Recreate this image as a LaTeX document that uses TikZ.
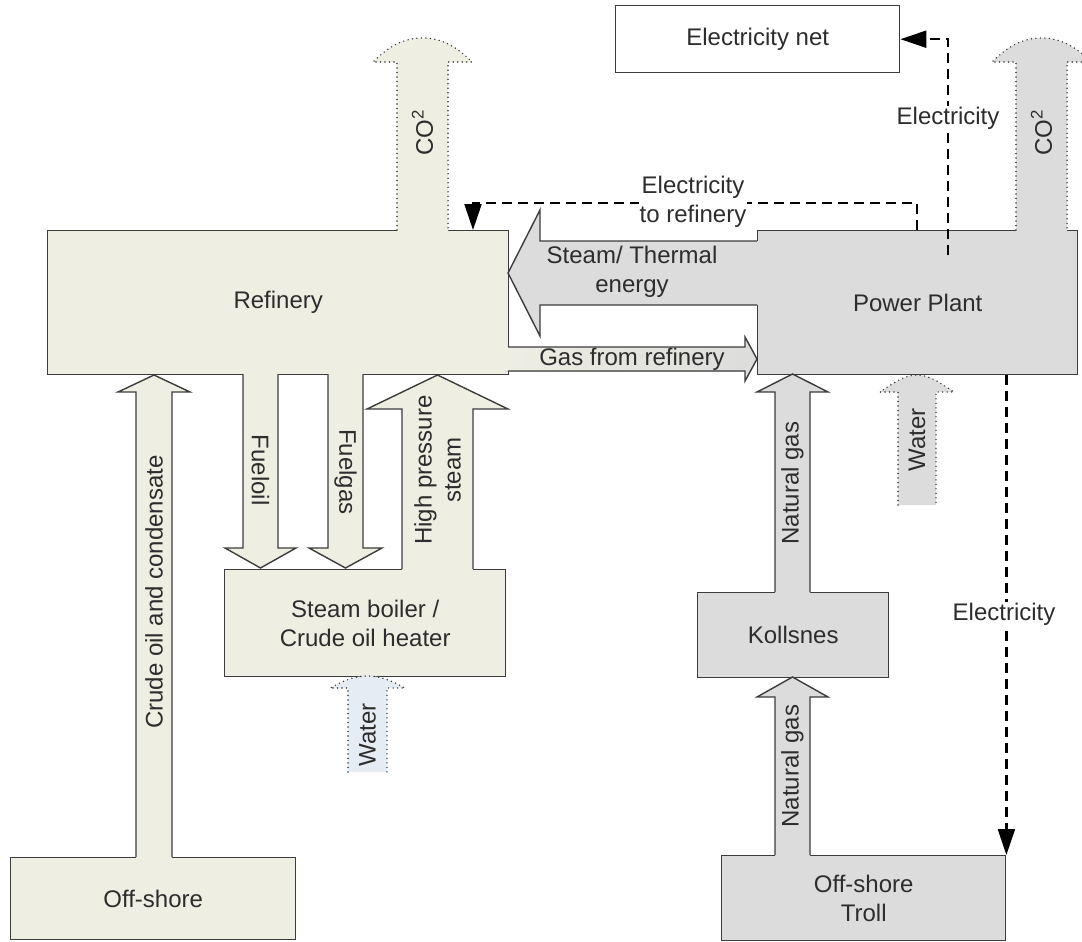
\documentclass[tikz,border=0pt]{standalone}
\usepackage{fontspec}
\setmainfont{Liberation Sans}
\usetikzlibrary{arrows.meta}
\definecolor{refcol}{RGB}{238,238,227}
\definecolor{ppcol}{RGB}{220,220,220}
\definecolor{watcol}{RGB}{229,236,244}
\definecolor{edge}{RGB}{60,60,60}
\definecolor{txt}{RGB}{45,45,45}
\begin{document}
\begin{tikzpicture}[x=1pt,y=-1pt,font=\fontsize{24}{29}\selectfont,
  box/.style={draw=edge,line width=1.4pt,anchor=north west,inner sep=0pt,align=center,text=txt},
  bl/.style={draw=edge,line width=1.4pt,line join=miter},
  dotl/.style={draw=edge,line width=1.6pt,line cap=round,dash pattern=on 0pt off 4.5pt},
  elec/.style={draw=black,line width=2.2pt,dash pattern=on 10pt off 6pt,-{Triangle[length=26pt,width=17pt]}},
  lab/.style={text=txt,inner sep=1pt,align=center}]
\useasboundingbox (0,0) rectangle (1082,942);

% boxes
\node[box,fill=refcol,minimum width=461pt,minimum height=144pt] (ref) at (47,230) {Refinery};
\node[box,fill=ppcol,minimum width=320pt,minimum height=144pt] (pp) at (757,230) {Power Plant};
\node[box,fill=refcol,minimum width=281pt,minimum height=107pt] (boil) at (224,569) {Steam boiler /\\Crude oil heater};
\node[box,fill=ppcol,minimum width=191pt,minimum height=85pt] (kol) at (697,592) {Kollsnes};
\node[box,fill=ppcol,minimum width=284pt,minimum height=85pt] (troll) at (721,855) {Off-shore\\Troll};
\node[box,fill=refcol,minimum width=285pt,minimum height=82pt] (off) at (10,857) {Off-shore};
\node[box,fill=white,minimum width=284pt,minimum height=67pt] (net) at (615,5) {Electricity net};

% Steam / thermal energy arrow (power plant -> refinery)
\fill[ppcol] (760,241) -- (540,241) -- (540,210) -- (508,273) -- (540,336) -- (540,305) -- (760,305) -- cycle;
\draw[bl] (757,241) -- (540,241) -- (540,210) -- (508,273) -- (540,336) -- (540,305) -- (757,305);
% Gas from refinery
\fill[left color=refcol,right color=ppcol] (505,347) -- (745,347) -- (745,337) -- (757,359) -- (745,381) -- (745,371) -- (505,371) -- cycle;
\draw[bl] (508,347) -- (745,347) -- (745,337) -- (757,359) -- (745,381) -- (745,371) -- (508,371);

% CO2 arrows (dotted)
\fill[refcol] (397,233) -- (397,62) -- (373,62) .. controls (390,45) and (405,38) .. (422.5,38) .. controls (440,38) and (455,45) .. (472,62) -- (448,62) -- (448,233) -- cycle;
\draw[dotl] (397,230) -- (397,62) -- (373,62) .. controls (390,45) and (405,38) .. (422.5,38) .. controls (440,38) and (455,45) .. (472,62) -- (448,62) -- (448,230);
\fill[ppcol] (1016,233) -- (1016,62) -- (992,62) .. controls (1009,45) and (1024,38) .. (1041.5,38) .. controls (1059,38) and (1074,45) .. (1091,62) -- (1067,62) -- (1067,233) -- cycle;
\draw[dotl] (1016,230) -- (1016,62) -- (992,62) .. controls (1009,45) and (1024,38) .. (1041.5,38) .. controls (1059,38) and (1074,45) .. (1091,62) -- (1067,62) -- (1067,230);

% Water arrows (dotted)
\fill[watcol] (348,772) -- (348,688) -- (330,688) .. controls (345,680) and (355,676) .. (367.5,676) .. controls (380,676) and (390,680) .. (405,688) -- (387,688) -- (387,772) -- cycle;
\draw[dotl] (348,772) -- (348,688) -- (330,688) .. controls (345,680) and (355,676) .. (367.5,676) .. controls (380,676) and (390,680) .. (405,688) -- (387,688) -- (387,772);
\fill[ppcol] (898,505) -- (898,392) -- (880,392) .. controls (895,382) and (905,375) .. (917,375) .. controls (929,375) and (939,382) .. (954,392) -- (936,392) -- (936,505) -- cycle;
\draw[dotl] (898,505) -- (898,392) -- (880,392) .. controls (895,382) and (905,375) .. (917,375) .. controls (929,375) and (939,382) .. (954,392) -- (936,392) -- (936,505);

% Crude oil and condensate (off-shore -> refinery)
\fill[refcol] (136,860) -- (136,392) -- (118,392) -- (154,375) -- (190,392) -- (172,392) -- (172,860) -- cycle;
\draw[bl] (136,857) -- (136,392) -- (118,392) -- (154,375) -- (190,392) -- (172,392) -- (172,857);
% Fueloil
\fill[refcol] (243,371) -- (243,548) -- (225,548) -- (260.5,568) -- (296,548) -- (278,548) -- (278,371) -- cycle;
\draw[bl] (243,374) -- (243,548) -- (225,548) -- (260.5,568) -- (296,548) -- (278,548) -- (278,374);
% Fuelgas
\fill[refcol] (328,371) -- (328,548) -- (309,548) -- (345.5,568) -- (382,548) -- (363,548) -- (363,371) -- cycle;
\draw[bl] (328,374) -- (328,548) -- (309,548) -- (345.5,568) -- (382,548) -- (363,548) -- (363,374);
% High pressure steam
\fill[refcol] (402,572) -- (402,409) -- (367,409) -- (437.5,375) -- (508,409) -- (473,409) -- (473,572) -- cycle;
\draw[bl] (402,569) -- (402,409) -- (367,409) -- (437.5,375) -- (508,409) -- (473,409) -- (473,569);
% Natural gas (Kollsnes -> power plant)
\fill[ppcol] (775,595) -- (775,392) -- (757,392) -- (792.5,374) -- (828,392) -- (810,392) -- (810,595) -- cycle;
\draw[bl] (775,592) -- (775,392) -- (757,392) -- (792.5,374) -- (828,392) -- (810,392) -- (810,592);
% Natural gas (Troll -> Kollsnes)
\fill[ppcol] (775,858) -- (775,697) -- (757,697) -- (792.5,677) -- (828,697) -- (810,697) -- (810,858) -- cycle;
\draw[bl] (775,855) -- (775,697) -- (757,697) -- (792.5,677) -- (828,697) -- (810,697) -- (810,855);

% electricity connectors
\coordinate (e1) at (948,255);
\draw[elec] (e1) |- (net.east);
\coordinate (r1) at (917,230);
\coordinate (r2) at (473,230);
\draw[elec] (r1) -- ++(0,-27) -| (r2);
\draw[elec] (pp.south -| troll.north east) -- (troll.north east);

% labels
\node[lab] (lsteam) at (632,272) {Steam/ Thermal\\energy};
\node[lab] (lgas) at (632,359) {Gas from refinery};
\node[lab,fill=white] (lel1) at (948,118) {Electricity};
\node[lab,fill=white] (lel2) at (693,202) {Electricity\\to refinery};
\node[lab,fill=white] (lel3) at (1004,614) {Electricity};
\node[lab,rotate=90] (lco2a) at (422.5,133) {CO\textsuperscript{2}};
\node[lab,rotate=90] (lco2b) at (1041.5,133) {CO\textsuperscript{2}};
\node[lab,rotate=90] (lcrude) at (154,592) {Crude oil and condensate};
\node[lab,rotate=-90] (lfo) at (260.5,470) {Fueloil};
\node[lab,rotate=-90] (lfg) at (345.5,472) {Fuelgas};
\node[lab,rotate=90] (lhp) at (437.5,470) {High pressure\\steam};
\node[lab,rotate=90] (lw1) at (367.5,735) {Water};
\node[lab,rotate=90] (lw2) at (917,440) {Water};
\node[lab,rotate=90] (lng1) at (792.5,483) {Natural gas};
\node[lab,rotate=90] (lng2) at (792.5,766) {Natural gas};
\end{tikzpicture}
\end{document}
